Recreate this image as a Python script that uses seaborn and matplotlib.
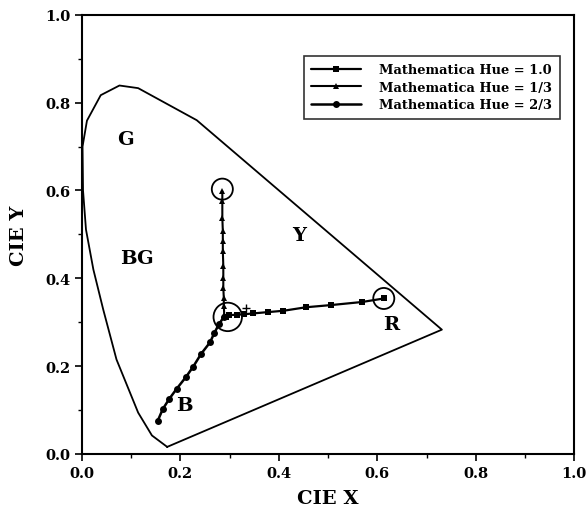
import matplotlib
matplotlib.use("Agg")
import matplotlib.pyplot as plt
import seaborn as sns
import pandas as pd
from matplotlib.ticker import MultipleLocator

# Spectral locus outline
locus_x = [0.173, 0.142, 0.114, 0.070, 0.043, 0.023, 0.008, 0.002, 0.001, 0.010, 0.038, 0.076, 0.114, 0.233, 0.731, 0.173]
locus_y = [0.016, 0.042, 0.094, 0.215, 0.329, 0.420, 0.511, 0.600, 0.700, 0.759, 0.817, 0.839, 0.833, 0.760, 0.283, 0.016]

# Mathematica Hue = 1.0 (squares)
hue1_x = [0.292, 0.299, 0.314, 0.329, 0.348, 0.378, 0.409, 0.455, 0.506, 0.569, 0.613]
hue1_y = [0.312, 0.316, 0.317, 0.318, 0.320, 0.323, 0.326, 0.334, 0.339, 0.346, 0.354]

# Mathematica Hue = 1/3 (triangles)
hue13_x = [0.289, 0.288, 0.288, 0.287, 0.287, 0.287, 0.286, 0.286, 0.286, 0.285, 0.285]
hue13_y = [0.316, 0.336, 0.355, 0.378, 0.401, 0.428, 0.462, 0.485, 0.508, 0.538, 0.576]
hue13_top = (0.285, 0.598)

# Mathematica Hue = 2/3 (circles)
hue23_x = [0.288, 0.278, 0.269, 0.260, 0.242, 0.226, 0.211, 0.192, 0.177, 0.164, 0.154]
hue23_y = [0.312, 0.295, 0.276, 0.254, 0.228, 0.199, 0.175, 0.148, 0.125, 0.102, 0.076]

series_names = ["Mathematica Hue = 1.0", "Mathematica Hue = 1/3", "Mathematica Hue = 2/3"]

# Ring markers and white point
ring_x = [0.285, 0.613]
ring_y = [0.603, 0.354]
center_ring = (0.296, 0.312)
white_point = (1/3, 1/3)

region_labels = ["G", "Y", "BG", "R", "B"]
region_x = [0.088, 0.440, 0.112, 0.628, 0.207]
region_y = [0.717, 0.498, 0.447, 0.297, 0.112]

sns.set_style("ticks")
plt.rcParams["font.family"] = ["DejaVu Serif"]
plt.rcParams["font.weight"] = "bold"
plt.rcParams["text.color"] = "black"
plt.rcParams["axes.labelcolor"] = "black"
plt.rcParams["xtick.color"] = "black"
plt.rcParams["ytick.color"] = "black"

fig = plt.figure(figsize=(5.86, 5.10), dpi=100)
ax = fig.add_axes([0.140, 0.108, 0.840, 0.861])

sns.lineplot(x=locus_x, y=locus_y, sort=False, estimator=None, color="black", lw=1.3, ax=ax)

t13x = hue13_x + [hue13_top[0]]
t13y = hue13_y + [hue13_top[1]]
sns.lineplot(x=hue1_x, y=hue1_y, sort=False, estimator=None, color="black", lw=1.6,
             marker="s", markersize=5, markeredgewidth=0, label=series_names[0], ax=ax)
sns.lineplot(x=t13x, y=t13y, sort=False, estimator=None, color="black", lw=1.5,
             marker="^", markersize=5, markeredgewidth=0, label=series_names[1], ax=ax)
sns.lineplot(x=hue23_x, y=hue23_y, sort=False, estimator=None, color="black", lw=1.8,
             marker="o", markersize=5, markeredgewidth=0, label=series_names[2], ax=ax)

ax.scatter(ring_x, ring_y, s=230, facecolors="none", edgecolors="black", linewidths=1.3, zorder=5)
ax.scatter([center_ring[0]], [center_ring[1]], s=420, facecolors="none", edgecolors="black",
           linewidths=1.3, zorder=5)
ax.scatter([white_point[0]], [white_point[1]], marker="+", s=30, color="black", linewidths=1.0, zorder=5)

for lab, lx, ly in zip(region_labels, region_x, region_y):
    ax.text(lx, ly, lab, fontsize=14, fontweight="bold", ha="center", va="center", color="black")

ax.set_xlim(0, 1)
ax.set_ylim(0, 1)
ax.xaxis.set_major_locator(MultipleLocator(0.2))
ax.yaxis.set_major_locator(MultipleLocator(0.2))
ax.xaxis.set_minor_locator(MultipleLocator(0.1))
ax.yaxis.set_minor_locator(MultipleLocator(0.1))
ax.tick_params(which="major", direction="out", length=5, width=1.2, labelsize=10.5, colors="black")
ax.tick_params(which="minor", direction="out", length=3, width=1.0, colors="black")
ax.xaxis.set_major_formatter(plt.FuncFormatter(lambda v, p: f"{v:.1f}"))
ax.yaxis.set_major_formatter(plt.FuncFormatter(lambda v, p: f"{v:.1f}"))
for lbl in ax.get_xticklabels() + ax.get_yticklabels():
    lbl.set_fontweight("bold")
for sp in ax.spines.values():
    sp.set_visible(True)
    sp.set_linewidth(1.5)
    sp.set_color("black")

ax.set_xlabel("CIE X", fontsize=14, fontweight="bold", labelpad=7, color="black")
ax.set_ylabel("CIE Y", fontsize=14, fontweight="bold", labelpad=12, color="black")

leg = ax.legend(loc="upper right", bbox_to_anchor=(0.970, 0.906), frameon=True, fancybox=False,
                edgecolor="black", fontsize=9.4, handlelength=3.8, borderpad=0.55,
                labelspacing=0.35, handletextpad=1.4, borderaxespad=0)
leg.get_frame().set_linewidth(1.2)
for t in leg.get_texts():
    t.set_fontweight("bold")
    t.set_color("black")

fig.savefig("out.png", dpi=100)
